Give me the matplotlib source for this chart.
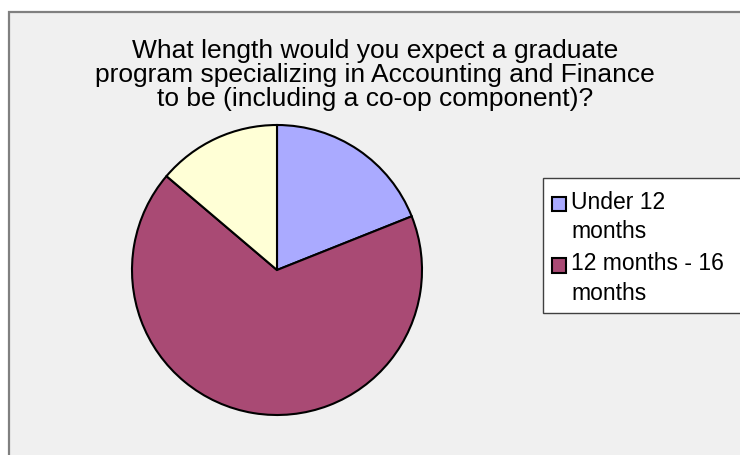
import matplotlib.pyplot as plt
from matplotlib.patches import Rectangle, Patch
from matplotlib.legend_handler import HandlerPatch

# Данные диаграммы
categories = ['Under 12\nmonths', '12 months - 16\nmonths', 'Over 16 months']
counts = [11, 39, 8]
colors = ['#aaaaff', '#a94a74', '#ffffd6']

W, H = 740, 455
fig = plt.figure(figsize=(W / 100, H / 100), dpi=100)
fig.patch.set_facecolor('white')

# Фон области диаграммы с рамкой
fig.patches.append(Rectangle((8.5 / W, -0.01), 1.0, (H - 11.5) / H + 0.01,
                             transform=fig.transFigure, facecolor='#f0f0f0',
                             edgecolor='#808080', linewidth=1.6, zorder=-10))

# Оси для круговой диаграммы: центр (277, 270), радиус 145 px
ax = fig.add_axes([132 / W, (H - 415) / H, 290 / W, 290 / H])
ax.pie(counts, colors=colors, startangle=90, counterclock=False,
       wedgeprops=dict(edgecolor='black', linewidth=1.5))
ax.set_xlim(-1, 1)
ax.set_ylim(-1, 1)
ax.axis('off')

# Заголовок по центру области диаграммы
fig.text(375 / W, 1 - 75 / H,
         'What length would you expect a graduate\n'
         'program specializing in Accounting and Finance\n'
         'to be (including a co-op component)?',
         ha='center', va='center', fontsize=19, linespacing=1.0,
         family=['Liberation Sans', 'DejaVu Sans'])


# Квадратик легенды на уровне первой строки подписи
def top_square(legend, orig_handle, xdescent, ydescent, width, height, fontsize):
    return Rectangle((-xdescent, -ydescent + 0.62 * fontsize), width, height)


# Рамка легенды
fig.patches.append(Rectangle((543 / W, 1 - 313 / H), 200 / W, 135 / H,
                             transform=fig.transFigure, facecolor='white',
                             edgecolor='#404040', linewidth=1, zorder=1))

# Легенда только для двух первых категорий
handles = [Patch(facecolor=colors[i], edgecolor='black', linewidth=1.5)
           for i in range(2)]
leg = fig.legend(handles, categories[:2], loc='upper left',
                 bbox_to_anchor=(552 / W, 1 - 191 / H),
                 prop=dict(family='Liberation Sans', size=16.5),
                 frameon=False,
                 handler_map={Patch: HandlerPatch(patch_func=top_square)},
                 handlelength=0.6, handleheight=0.6, handletextpad=0.25,
                 borderpad=0, labelspacing=0.4, borderaxespad=0)
for t in leg.get_texts():
    t.set_linespacing(1.35)

fig.savefig('out.png', dpi=100)
